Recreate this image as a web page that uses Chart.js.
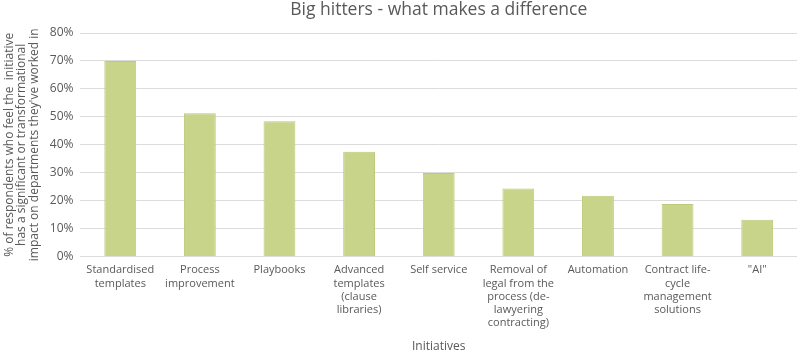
<!DOCTYPE html>
<html>
<head>
<meta charset="utf-8">
<script src="https://cdn.jsdelivr.net/npm/chart.js"></script>
<style>
  html, body { margin: 0; padding: 0; background: #fff; }
  #wrap { width: 800px; height: 354px; }
</style>
</head>
<body>
<div id="wrap"><canvas id="chart"></canvas></div>
<script>
const categories = [
  ['Standardised', 'templates'],
  ['Process', 'improvement'],
  ['Playbooks'],
  ['Advanced', 'templates', '(clause', 'libraries)'],
  ['Self service'],
  ['Removal of', 'legal from the', 'process (de-', 'lawyering', 'contracting)'],
  ['Automation'],
  ['Contract life-', 'cycle', 'management', 'solutions'],
  ['"AI"'],
];
const impactPct = [70, 51.3, 48.4, 37.5, 29.9, 24.4, 21.8, 18.8, 13.2];
const yTitle = [
  '% of respondents who feel the  initiative',
  'has a significant or transformational',
  "impact on departments they've worked in",
];

const grey = '#595959';
const font = 'Open Sans, sans-serif';

new Chart(document.getElementById('chart'), {
  type: 'bar',
  data: {
    labels: categories,
    datasets: [{
      label: 'Impact',
      data: impactPct,
      backgroundColor: '#c8d48a',
      borderColor: '#bccb7a',
      borderWidth: 1,
      categoryPercentage: 1,
      barPercentage: 0.4,
    }],
  },
  options: {
    responsive: true,
    maintainAspectRatio: false,
    animation: false,
    layout: { padding: { top: 0, right: 3, bottom: 0, left: 3 } },
    plugins: {
      legend: { display: false },
      tooltip: { enabled: false },
      title: {
        display: true,
        text: 'Big hitters - what makes a difference',
        color: grey,
        fullSize: false,
        font: { family: font, size: 17.5, weight: 'normal' },
        padding: { top: 0, bottom: 12 },
      },
    },
    scales: {
      x: {
        grid: { display: false, drawTicks: false },
        border: { display: false },
        ticks: {
          color: grey,
          font: { family: font, size: 11 },
          padding: 7,
          maxRotation: 0,
          autoSkip: false,
        },
        title: {
          display: true,
          text: 'Initiatives',
          color: grey,
          font: { family: font, size: 12 },
          padding: { top: 3, bottom: 0 },
        },
      },
      y: {
        min: 0,
        max: 80,
        grid: { color: '#dcdcdc', drawTicks: false },
        border: { display: false },
        ticks: {
          stepSize: 10,
          color: grey,
          padding: 7,
          font: { family: font, size: 12 },
          callback: (v) => v + '%',
        },
        title: {
          display: true,
          text: yTitle,
          color: grey,
          font: { family: font, size: 12, lineHeight: 1.05 },
          padding: { top: 0, bottom: 2 },
        },
      },
    },
  },
});
</script>
</body>
</html>
